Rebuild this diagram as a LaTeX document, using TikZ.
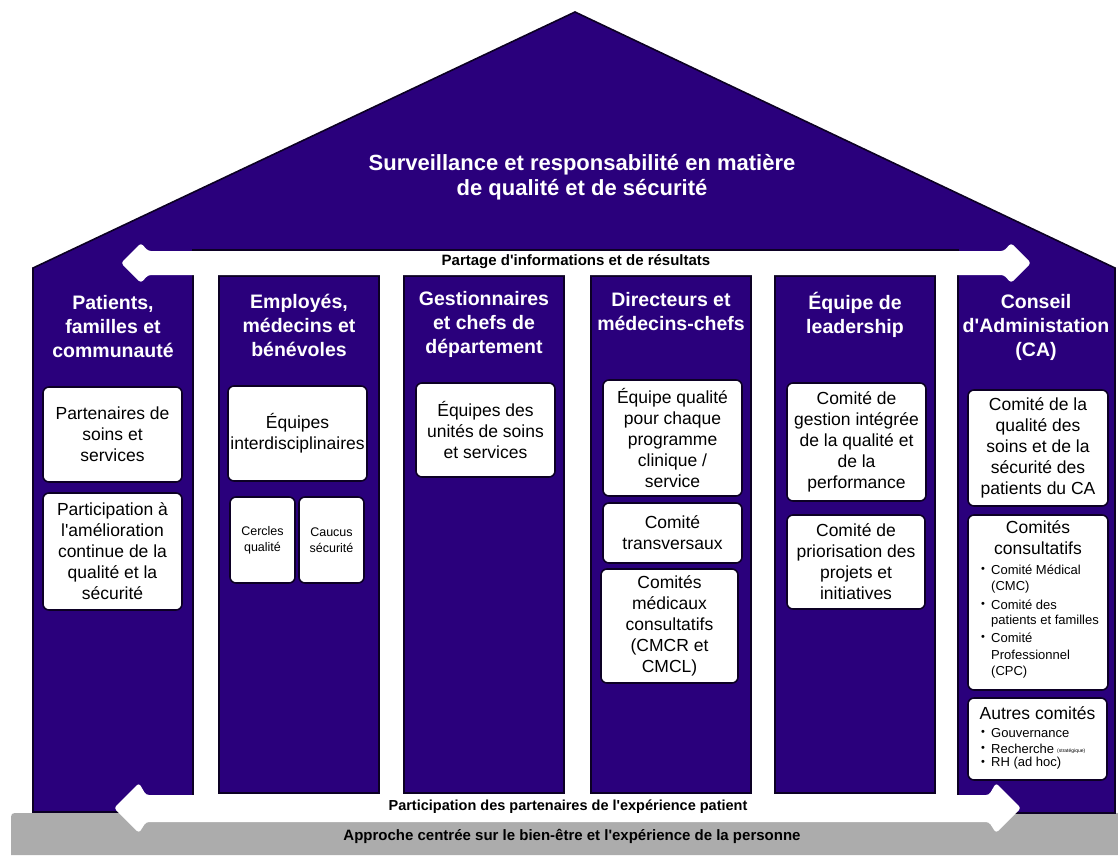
\documentclass[tikz,border=0pt]{standalone}
\usepackage{fontspec}
\setmainfont{Liberation Sans}[Ligatures=TeXOff]
\definecolor{navy}{RGB}{42,0,124}
\definecolor{basegray}{RGB}{172,172,172}
\definecolor{edgec}{RGB}{12,0,36}
\tikzset{
  colbox/.style={fill=navy, draw=edgec, line width=1.6pt},
  wbox/.style={fill=white, draw=edgec, line width=1.6pt, rounded corners=6pt, inner sep=0pt, align=center, text=black, font=\fontsize{17.5}{21}\selectfont},
  sbox/.style={wbox, font=\fontsize{12.5}{16}\selectfont},
  headtxt/.style={text=white, font=\bfseries\fontsize{19.5}{24}\selectfont, align=center, inner sep=0pt},
  titletxt/.style={text=white, font=\bfseries\fontsize{22}{25}\selectfont, align=center, inner sep=0pt},
  arrtxt/.style={text=black, font=\bfseries\fontsize{14.5}{17}\selectfont, inner sep=0pt},
  btxt/.style={text=black, font=\fontsize{17.5}{21}\selectfont, align=center, inner sep=0pt},
  ltxt/.style={text=black, font=\fontsize{13}{16}\selectfont, inner sep=0pt, anchor=west},
  bullet/.style={text=black, font=\fontsize{11}{13}\selectfont, inner sep=0pt},
  wharrow/.style={fill=white, draw=none, rounded corners=3pt},
}
\begin{document}
\begin{tikzpicture}[x=1pt,y=-1pt]
\useasboundingbox (0,0) rectangle (1118,855);
% base
\fill[basegray] (11,855) -- (11,821) .. controls (11,813) .. (19,813) -- (1118,813) -- (1118,855) -- cycle;
% house (roof + outer columns)
\draw[colbox] (33,812) -- (33,268) -- (575,12) -- (1115,268) -- (1115,813) -- (958,813) -- (958,250) -- (193,250) -- (193,812) -- cycle;
% inner columns
\draw[colbox] (219,276) rectangle (379,793);
\draw[colbox] (404,276) rectangle (564,793);
\draw[colbox] (591,276) rectangle (751,793);
\draw[colbox] (775,276) rectangle (935,793);
% arrows
\fill[wharrow] (121,263) -- (141,243) -- (148,251) -- (1004,251) -- (1011,243) -- (1031,263) -- (1011,283) -- (1004,275) -- (148,275) -- (141,283) -- cycle;
\fill[wharrow] (114,808) -- (139,783) -- (146,795) -- (989,795) -- (996,783) -- (1021,808) -- (996,833) -- (989,822) -- (146,822) -- (139,833) -- cycle;
\node[arrtxt, font=\bfseries\fontsize{15}{17}\selectfont] (partage) at (576,262) {Partage d'informations et de résultats};
\node[arrtxt] (particip) at (568,807) {Participation des partenaires de l'expérience patient};
\node[arrtxt, font=\bfseries\fontsize{15}{17}\selectfont] (approche) at (572,836) {Approche centrée sur le bien-être et l'expérience de la personne};
% title
\node[titletxt] (title) at (582,177) {Surveillance et responsabilité en matière\\de qualité et de sécurité};
% headings
\node[headtxt] (h1) at (113,327) {Patients,\\familles et\\communauté};
\node[headtxt] (h2) at (299,325.5) {Employés,\\médecins et\\bénévoles};
\node[headtxt] (h3) at (484,324) {Gestionnaires\\et chefs de\\département};
\node[headtxt] (h4) at (671,311.5) {Directeurs et\\médecins-chefs};
\node[headtxt] (h5) at (855,315) {Équipe de\\leadership};
\node[headtxt] (h6) at (1036,327) {Conseil\\d'Administation\\(CA)};
% column 1
\node[wbox, minimum width=139, minimum height=95] (c1a) at (112.5,434.5) {Partenaires de\\soins et\\services};
\node[wbox, minimum width=139, minimum height=117] (c1b) at (112.5,551.5) {Participation à\\l'amélioration\\continue de la\\qualité et la\\sécurité};
% column 2
\node[wbox, minimum width=139, minimum height=95] (c2a) at (297.5,433.5) {Équipes\\interdisciplinaires};
\node[sbox, minimum width=65, minimum height=86] (c2b) at (262.5,540) {Cercles\\qualité};
\node[sbox, minimum width=65, minimum height=86] (c2c) at (331.5,540) {Caucus\\sécurité};
% column 3
\node[wbox, minimum width=139, minimum height=94] (c3a) at (485.5,430) {Équipes des\\unités de soins\\et services};
% column 4
\node[wbox, minimum width=139, minimum height=116] (c4a) at (672.5,438) {Équipe qualité\\pour chaque\\programme\\clinique /\\service};
\node[wbox, minimum width=139, minimum height=60] (c4b) at (672.5,533) {Comité\\transversaux};
\node[wbox, minimum width=137, minimum height=114] (c4c) at (669.5,626) {Comités\\médicaux\\consultatifs\\(CMCR et\\CMCL)};
% column 5
\node[wbox, minimum width=139, minimum height=118] (c5a) at (856.5,442) {Comité de\\gestion intégrée\\de la qualité et\\de la\\performance};
\node[wbox, minimum width=138, minimum height=94] (c5b) at (856,562) {Comité de\\priorisation des\\projets et\\initiatives};
% column 6
\node[wbox, minimum width=140, minimum height=116] (c6a) at (1038,448) {Comité de la\\qualité des\\soins et de la\\sécurité des\\patients du CA};
\node[wbox, minimum width=140, minimum height=175] (c6b) at (1038,602.5) {};
\node[wbox, minimum width=139, minimum height=82] (c6c) at (1037.5,739) {};
\node[btxt] (c6bt) at (1038,537.5) {Comités\\consultatifs};
\node[bullet] (u1) at (983,570) {•};
\node[ltxt] (u1a) at (991,570) {Comité Médical};
\node[ltxt] (u1b) at (991,587) {(CMC)};
\node[bullet] (u2) at (983,605) {•};
\node[ltxt] (u2a) at (991,605) {Comité des};
\node[ltxt] (u2b) at (991,621.5) {patients et familles};
\node[bullet] (u3) at (983,638) {•};
\node[ltxt] (u3a) at (991,638) {Comité};
\node[ltxt] (u3b) at (991,655) {Professionnel};
\node[ltxt] (u3c) at (991,672) {(CPC)};
\node[btxt] (c6ct) at (1037.5,713) {Autres comités};
\node[bullet] (v1) at (983,733) {•};
\node[ltxt] (v1a) at (991,733) {Gouvernance};
\node[bullet] (v2) at (983,749) {•};
\node[ltxt] (v2a) at (991,749) {Recherche};
\node[text=black, font=\fontsize{5}{6}\selectfont, inner sep=0pt, anchor=west] (v2b) at (1057,751) {(stratégique)};
\node[bullet] (v3) at (983,763) {•};
\node[ltxt] (v3a) at (991,763) {RH (ad hoc)};
\end{tikzpicture}
\end{document}
